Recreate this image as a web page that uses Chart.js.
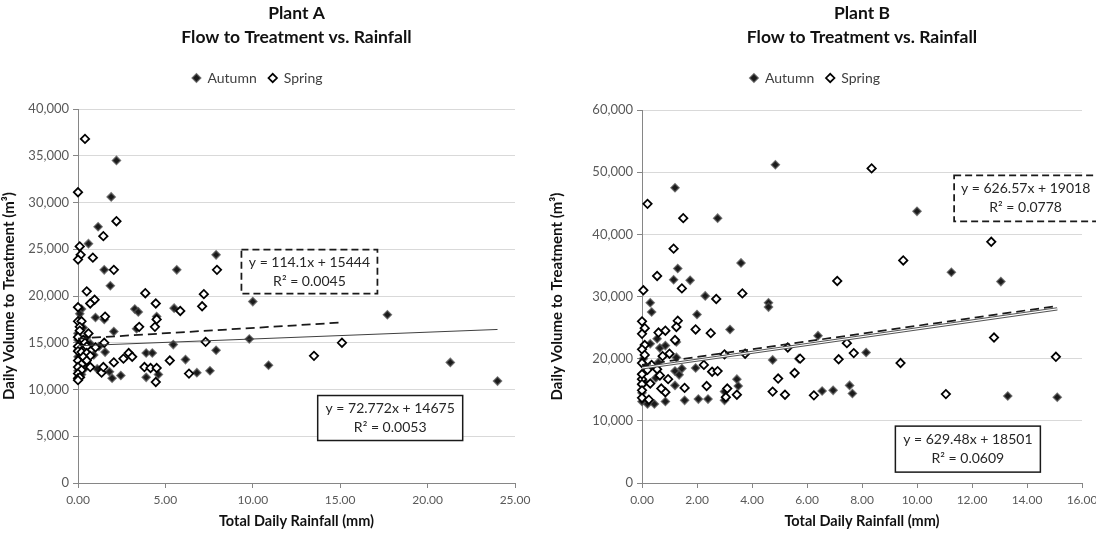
<!DOCTYPE html>
<html>
<head>
<meta charset="utf-8">
<script src="https://cdn.jsdelivr.net/npm/chart.js@4.4.1/dist/chart.umd.min.js"></script>
<style>
  body { margin: 0; background: #fff; }
  .wrap { position: absolute; top: 0; width: 548px; height: 535px; }
</style>
</head>
<body>
<div class="wrap" style="left:0"><canvas id="plantA" width="548" height="535"></canvas></div>
<div class="wrap" style="left:548px"><canvas id="plantB" width="548" height="535"></canvas></div>
<script>
// [rainfall mm, volume m3]
var plantAAutumn = [
  [2.2,34500],[1.9,30600],[1.15,27400],[0.6,25600],[7.9,24400],[1.5,22800],[5.65,22800],
  [1.85,21100],[10.0,19400],[3.25,18600],[3.45,18300],[5.5,18700],[0.2,18600],[1.0,17700],
  [1.5,17500],[0.1,18100],[2.05,16200],[3.35,16500],[4.5,17800],[0.0,16000],[0.0,15300],
  [0.2,14800],[0.7,14900],[1.2,14600],[1.55,14000],[3.9,13900],[4.25,13900],[5.45,14800],
  [6.15,13200],[7.9,14200],[6.8,11800],[7.55,12000],[9.8,15400],[10.9,12600],[4.6,11600],
  [3.9,11300],[1.95,11200],[2.45,11500],[1.1,12200],[1.8,11900],[0.0,13500],[0.1,12900],
  [0.0,12000],[0.15,11300],[0.2,11600],[0.35,12200],[0.4,12800],[0.9,13700],[17.7,18000],
  [21.3,12900],[24.0,10900],[0.3,16600],[0.5,15600],[0.0,14200],[0.3,13600]
];
var plantASpring = [
  [0.4,36800],[0.0,31100],[2.2,28000],[1.45,26400],[0.1,25300],[0.15,24400],[0.85,24100],
  [0.0,23900],[7.95,22800],[2.05,22800],[0.5,20500],[3.85,20300],[0.95,19600],[0.7,19200],
  [4.45,19200],[7.2,20200],[7.1,18900],[5.85,18400],[0.0,18800],[1.55,17800],[0.0,17300],
  [0.2,17300],[0.1,16700],[0.1,16300],[3.5,16700],[4.4,16700],[4.5,17500],[0.6,16000],
  [0.0,15600],[0.3,15300],[0.4,15000],[1.5,15000],[0.0,14600],[0.5,14600],[1.0,14500],
  [0.0,14100],[0.2,14000],[0.5,13900],[0.7,13600],[0.3,13500],[0.0,13100],[0.5,13100],
  [0.2,12700],[0.7,12400],[0.0,12400],[0.2,12100],[0.0,11700],[0.0,11200],[0.1,11300],
  [2.9,13900],[3.1,13500],[2.6,13300],[2.05,12900],[5.25,13100],[7.3,15100],[6.35,11700],
  [3.8,12400],[4.15,12300],[4.5,12300],[4.45,10800],[1.35,11800],[1.45,12400],[15.1,15000],
  [13.5,13600],[0.0,11000]
];
var plantBAutumn = [
  [4.85,51200],[1.2,47500],[2.75,42600],[3.6,35400],[1.3,34500],[1.15,32700],[1.75,32600],
  [10.0,43700],[11.25,33900],[13.05,32400],[6.4,23700],[8.15,21000],[7.55,15700],[7.65,14400],
  [6.95,14900],[6.55,14800],[13.3,14000],[15.1,13800],[2.3,30100],[4.6,29000],[4.6,28300],
  [0.3,29000],[0.35,27500],[2.0,27100],[3.2,24700],[0.55,23200],[1.25,22700],[0.3,22400],
  [0.65,21700],[0.85,22100],[1.25,20200],[0.05,20000],[4.75,19800],[5.7,20000],[1.95,18500],
  [1.45,18400],[1.2,18000],[1.35,17400],[0.5,16900],[3.45,16700],[3.5,15600],[1.2,15700],
  [3.0,14700],[3.0,13300],[2.05,13500],[2.4,13500],[1.55,13300],[0.85,13100],[0.0,13100],
  [0.2,12700],[0.45,12700],[0.0,17500],[0.1,16200],[0.0,14500],[0.1,18800],[0.6,19400],
  [0.0,15800]
];
var plantBSpring = [
  [0.2,44900],[1.5,42600],[1.15,37700],[0.55,33300],[1.45,31300],[0.05,31000],[7.1,32500],
  [8.35,50600],[12.7,38800],[9.5,35800],[7.45,22500],[12.8,23400],[7.7,20900],[7.15,19900],
  [9.4,19300],[15.05,20300],[5.75,20000],[6.25,14100],[11.05,14300],[2.7,29600],[3.65,30500],
  [0.0,26000],[0.1,24900],[1.3,26100],[1.25,25100],[1.95,24700],[2.5,24100],[0.6,24200],
  [0.85,24500],[0.0,24000],[1.2,23000],[0.1,22200],[1.0,20800],[0.75,20400],[0.0,21500],
  [0.1,20600],[0.0,19300],[0.35,19000],[3.0,20700],[3.75,20800],[5.3,21800],[2.25,19000],
  [2.55,17900],[2.75,18000],[0.55,18300],[0.65,17300],[0.95,16700],[1.55,15300],[2.35,15600],
  [0.85,14600],[0.7,15200],[0.3,16000],[0.0,16700],[0.0,15900],[0.0,14900],[0.0,13700],
  [4.75,14700],[4.95,16800],[5.2,14200],[5.55,17700],[3.05,13800],[3.1,15200],[3.45,14200],
  [0.25,13400],[0.0,17500],[0.2,18200]
];

// trendlines: slope, intercept, last x
var plantATrendAutumn = [72.772, 14675, 24.0];
var plantATrendSpring = [114.1, 15444, 15.1];
var plantBTrendAutumn = [629.48, 18501, 15.1];
var plantBTrendSpring = [626.57, 19018, 15.0];

var plantALabelAutumn = ['y = 72.772x + 14675', 'R\u00b2 = 0.0053'];
var plantALabelSpring = ['y = 114.1x + 15444', 'R\u00b2 = 0.0045'];
var plantBLabelAutumn = ['y = 629.48x + 18501', 'R\u00b2 = 0.0609'];
var plantBLabelSpring = ['y = 626.57x + 19018', 'R\u00b2 = 0.0778'];

var FONT = 'Lato';

function trendPoints(t) {
  return [{x: 0, y: t[1]}, {x: t[2], y: t[0] * t[2] + t[1]}];
}
function pts(arr) {
  return arr.map(function (p) { return {x: p[0], y: p[1]}; });
}

// equation boxes drawn over the plot
var eqBoxes = {
  id: 'eqBoxes',
  afterDatasetsDraw: function (chart, args, opts) {
    var ctx = chart.ctx, xs = chart.scales.x, ys = chart.scales.y;
    (opts.boxes || []).forEach(function (b) {
      var cx = xs.getPixelForValue(b.at[0]), cy = ys.getPixelForValue(b.at[1]);
      var left = cx - b.w / 2, top = cy - b.h / 2;
      ctx.save();
      ctx.fillStyle = '#fff';
      ctx.fillRect(left, top, b.w, b.h);
      ctx.setLineDash(b.dashed ? [7, 4] : []);
      ctx.lineWidth = b.dashed ? 1.75 : 1.5;
      ctx.strokeStyle = '#1a1a1a';
      ctx.strokeRect(left, top, b.w, b.h);
      ctx.setLineDash([]);
      ctx.fillStyle = '#262626';
      ctx.font = '14px ' + FONT;
      ctx.textAlign = 'center';
      ctx.textBaseline = 'middle';
      ctx.fillText(b.lines[0], cx, top + 13);
      ctx.fillText(b.lines[1], cx, top + 32);
      ctx.restore();
    });
  }
};

function makeChart(id, o) {
  var datasets = [
    {label: 'trendS', data: trendPoints(o.trendS), showLine: true, pointRadius: 0,
     borderColor: '#1a1a1a', borderWidth: 1.75, borderDash: [9, 5], order: 0},
    {label: 'Autumn', data: pts(o.autumn), pointStyle: 'rectRot', pointRadius: 4,
     backgroundColor: '#1a1a1a', borderColor: 'rgba(80,80,80,0.75)', borderWidth: 1.5, order: 3},
    {label: 'Spring', data: pts(o.spring), pointStyle: 'rectRot', pointRadius: 4.2,
     backgroundColor: '#fff', borderColor: '#000', borderWidth: 1.75, order: 2}
  ];
  if (o.doubleLine) {
    datasets.push({label: 'trendA', data: trendPoints(o.trendA), showLine: true, pointRadius: 0,
      borderColor: '#555', borderWidth: 3.2, order: 1});
    datasets.push({label: 'trendA2', data: trendPoints(o.trendA), showLine: true, pointRadius: 0,
      borderColor: '#fff', borderWidth: 1.2, order: 0.5});
  } else {
    datasets.push({label: 'trendA', data: trendPoints(o.trendA), showLine: true, pointRadius: 0,
      borderColor: '#404040', borderWidth: 1, order: 1});
  }

  return new Chart(document.getElementById(id), {
    type: 'scatter',
    data: {datasets: datasets},
    plugins: [eqBoxes],
    options: {
      responsive: false,
      animation: false,
      layout: {padding: {left: o.padLeft, right: o.padRight, top: 0, bottom: 0}},
      plugins: {
        tooltip: {enabled: false},
        title: {
          display: true, fullSize: false,
          text: [o.title, 'Flow to Treatment vs. Rainfall'],
          color: '#111', font: {family: FONT, size: 17.5, weight: 'bold', lineHeight: 1.4},
          padding: {top: 1, bottom: 9}
        },
        legend: {
          display: true,
          labels: {
            usePointStyle: true, boxWidth: 8, boxHeight: 6, padding: 12,
            color: '#404040', font: {family: FONT, size: 14},
            sort: function (a, b) { return a.datasetIndex - b.datasetIndex; },
            filter: function (item) { return item.text === 'Autumn' || item.text === 'Spring'; }
          }
        },
        eqBoxes: {boxes: o.boxes}
      },
      scales: {
        // empty band between the legend and the plot
        gap: {
          type: 'linear', axis: 'x', position: 'top', display: true,
          afterFit: function (s) { s.height = o.gap; s.paddingLeft = 0; s.paddingRight = 0; },
          ticks: {display: false}, grid: {display: false}, border: {display: false}
        },
        x: {
          type: 'linear', min: 0, max: o.xMax,
          afterFit: function (s) { s.height = 52; s.paddingLeft = 0; s.paddingRight = 0; },
          ticks: {stepSize: o.xStep, color: '#595959', padding: 5,
            font: {family: FONT, size: 12},
            callback: function (v) { return Number(v).toFixed(2); }},
          grid: {drawOnChartArea: false, drawTicks: true, tickLength: 5, tickColor: '#868686'},
          border: {display: true, color: '#868686'},
          title: {display: true, text: 'Total Daily Rainfall (mm)', color: '#111',
            font: {family: FONT, size: 14.5, weight: 'bold'}, padding: {top: 4, bottom: 5}}
        },
        y: {
          type: 'linear', min: 0, max: o.yMax,
          afterFit: function (s) { s.width = o.yWidth; s.paddingTop = 0; s.paddingBottom = 0; },
          ticks: {stepSize: o.yStep, color: '#595959', padding: 4,
            font: {family: FONT, size: 13},
            callback: function (v) { return Number(v).toLocaleString('en-US'); }},
          grid: {color: '#d9d9d9', lineWidth: 1, tickLength: 5, tickColor: '#868686'},
          border: {display: true, color: '#868686'},
          title: {display: true, text: 'Daily Volume to Treatment (m\u00b3)', color: '#111',
            font: {family: FONT, size: 15, weight: 'bold'}, padding: {top: 0, bottom: o.yTitlePad}}
        }
      }
    }
  });
}

makeChart('plantA', {
  title: 'Plant A', autumn: plantAAutumn, spring: plantASpring,
  trendA: plantATrendAutumn, trendS: plantATrendSpring, doubleLine: false,
  xMax: 25, xStep: 5, yMax: 40000, yStep: 5000, yWidth: 78, padLeft: 0, padRight: 33,
  yTitlePad: 2, gap: 14,
  boxes: [
    {at: [13.24, 22600], w: 136, h: 44, dashed: true, lines: plantALabelSpring},
    {at: [17.86, 6950], w: 145, h: 45, dashed: false, lines: plantALabelAutumn}
  ]
});

makeChart('plantB', {
  title: 'Plant B', autumn: plantBAutumn, spring: plantBSpring,
  trendA: plantBTrendAutumn, trendS: plantBTrendSpring, doubleLine: true,
  xMax: 16, xStep: 2, yMax: 60000, yStep: 10000, yWidth: 94, padLeft: 0, padRight: 14,
  yTitlePad: 2, gap: 15,
  boxes: [
    {at: [13.95, 45800], w: 143, h: 46, dashed: true, lines: plantBLabelSpring},
    {at: [11.85, 5450], w: 145, h: 46, dashed: false, lines: plantBLabelAutumn}
  ]
});
</script>
</body>
</html>
